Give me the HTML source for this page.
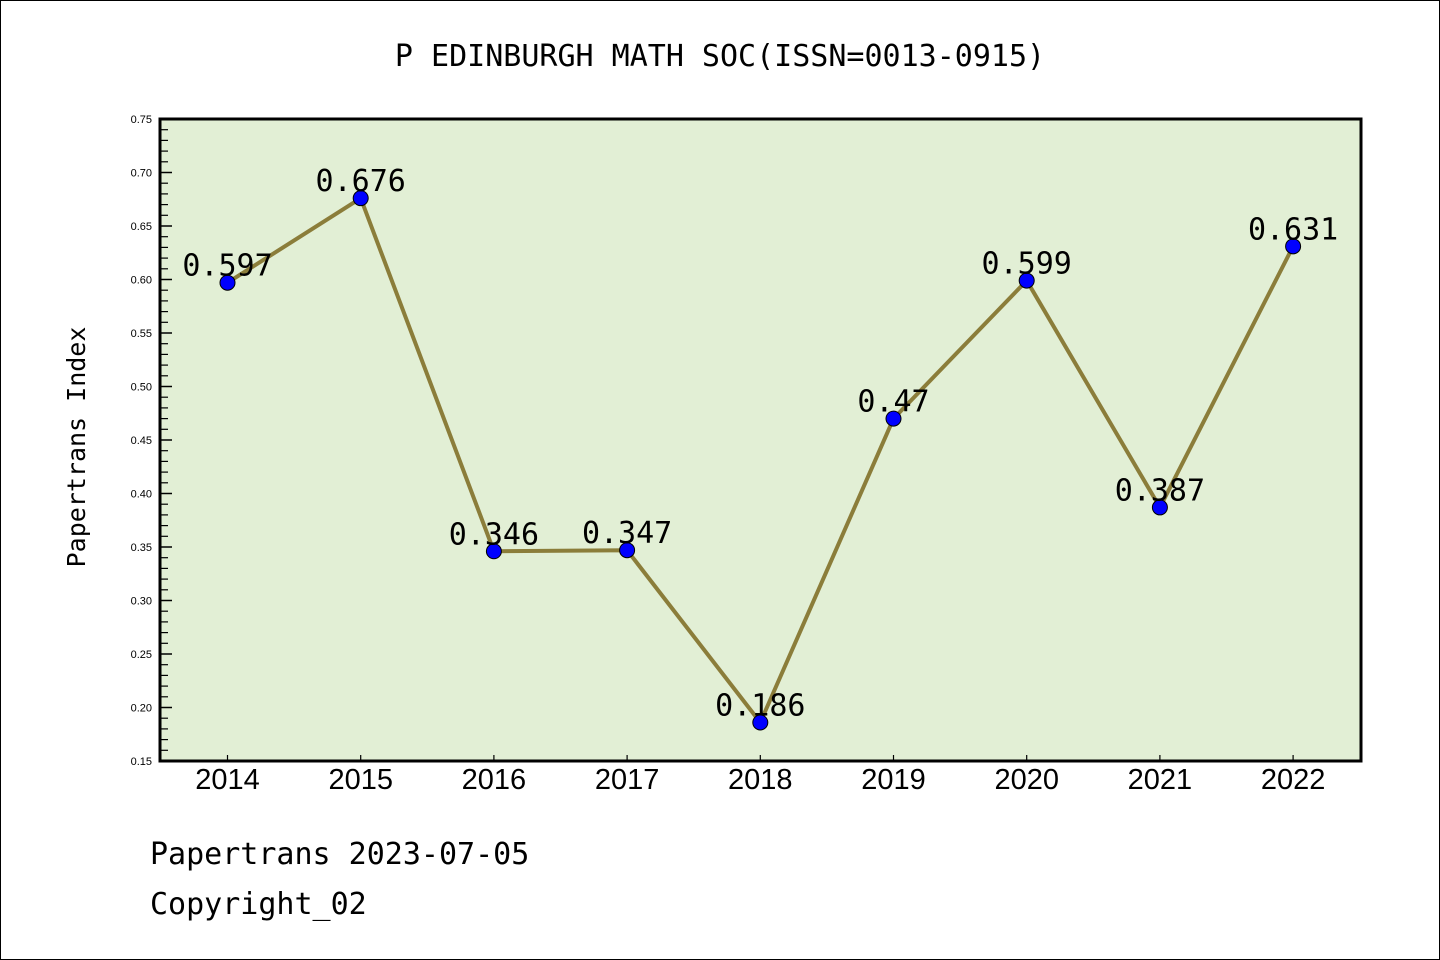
<!DOCTYPE html>
<html><head><meta charset="utf-8"><style>
html,body{margin:0;padding:0;background:#fff}
svg{display:block}
text{font-family:"Liberation Sans","DejaVu Sans",sans-serif}
.mono{font-family:"DejaVu Sans Mono","Liberation Mono",monospace}
</style></head><body>
<svg id="chart" width="1440" height="960" xmlns="http://www.w3.org/2000/svg">
<rect x="0.5" y="0.5" width="1439" height="959" fill="#fff" stroke="#000" stroke-width="1"/>
<rect x="160" y="119" width="1201" height="642" fill="#e2efd5"/>
<text class="mono" x="720" y="66" font-size="30" text-anchor="middle">P EDINBURGH MATH SOC(ISSN=0013-0915)</text>
<text class="mono" transform="translate(85,447) rotate(-90)" font-size="25" text-anchor="middle">Papertrans Index</text>
<text class="mono" x="150" y="864" font-size="30">Papertrans 2023-07-05</text>
<text class="mono" x="150" y="914" font-size="30">Copyright_02</text>
<g id="axes"></g>
<g id="marks"></g>
<rect x="160" y="119" width="1201" height="642" fill="none" stroke="#000" stroke-width="3"/>
</svg>
<script>
const years = ["2014","2015","2016","2017","2018","2019","2020","2021","2022"];
const values = [0.597,0.676,0.346,0.347,0.186,0.47,0.599,0.387,0.631];
const valueLabels = ["0.597","0.676","0.346","0.347","0.186","0.47","0.599","0.387","0.631"];
const yTicks = [0.15,0.20,0.25,0.30,0.35,0.40,0.45,0.50,0.55,0.60,0.65,0.70,0.75];
const yTickLabels = ["0.15","0.20","0.25","0.30","0.35","0.40","0.45","0.50","0.55","0.60","0.65","0.70","0.75"];

const NS="http://www.w3.org/2000/svg";
const yMin=0.15,yMax=0.75,plotTop=119,plotBottom=761,plotLeft=160;
function yScale(v){return plotBottom-(v-yMin)/(yMax-yMin)*(plotBottom-plotTop);}
function xScale(i){return 227.5+i*133.2;}
function mk(tag,attrs,parent){const e=document.createElementNS(NS,tag);for(const k in attrs)e.setAttribute(k,attrs[k]);parent.appendChild(e);return e;}
const axesG=document.getElementById('axes'),marksG=document.getElementById('marks');

yTicks.forEach((t,i)=>{
  const l=mk('line',{x1:plotLeft,x2:plotLeft+12,y1:yScale(t),y2:yScale(t),stroke:'#000','stroke-width':1.5},axesG);
  
  
  const tx=mk('text',{x:152,y:yScale(t)+4,'font-size':11,'text-anchor':'end'},axesG);
  
  
  tx.textContent=yTickLabels[i];
  if(i<yTicks.length-1){
    for(let m=1;m<5;m++){
      const v=t+m*0.01;
      const ml=mk('line',{x1:plotLeft,x2:plotLeft+8,y1:yScale(v),y2:yScale(v),stroke:'#000','stroke-width':1.2},axesG);
      
      
    }
  }
});
years.forEach((yr,i)=>{
  const l=mk('line',{x1:xScale(i),x2:xScale(i),y1:plotBottom,y2:plotBottom-6,stroke:'#000','stroke-width':1.2},axesG);
  
  
  const tx=mk('text',{x:xScale(i),y:789,'font-size':29,'text-anchor':'middle'},axesG);
  
  
  tx.textContent=yr;
});
const pts=values.map((v,i)=>xScale(i)+','+yScale(v)).join(' ');
const line=mk('polyline',{points:pts,fill:'none',stroke:'#8b7d3a','stroke-width':4,'stroke-linejoin':'round'},marksG);


values.forEach((v,i)=>{
  const c=mk('circle',{cx:xScale(i),cy:yScale(v),r:7.5,fill:'#0000ff',stroke:'#000','stroke-width':1},marksG);
  
  
});
values.forEach((v,i)=>{
  const t=mk('text',{x:xScale(i),y:yScale(v)-7,'font-size':30,'text-anchor':'middle',class:'mono'},marksG);
  
  
  t.textContent=valueLabels[i];
});
</script>
</body></html>
